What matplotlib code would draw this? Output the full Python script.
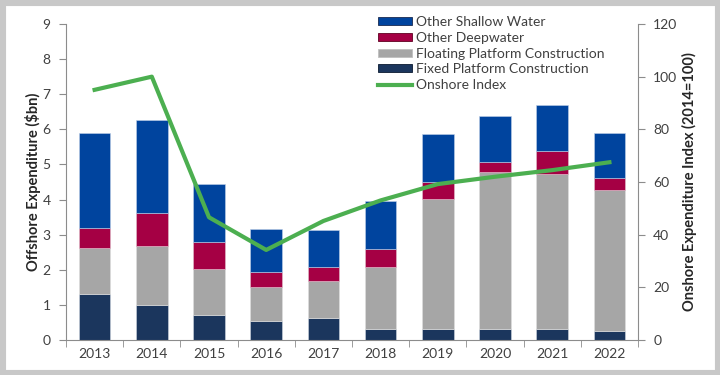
import numpy as np
import matplotlib.pyplot as plt
from matplotlib.patches import Rectangle
from matplotlib.lines import Line2D

plt.rcParams['font.family'] = ['Lato', 'DejaVu Sans']

years = ['2013', '2014', '2015', '2016', '2017', '2018', '2019', '2020', '2021', '2022']
fixed = [1.30, 1.00, 0.72, 0.53, 0.64, 0.32, 0.32, 0.32, 0.32, 0.25]
floating = [1.32, 1.68, 1.30, 0.99, 1.03, 1.77, 3.70, 4.46, 4.40, 4.03]
deepwater = [0.58, 0.94, 0.78, 0.41, 0.41, 0.49, 0.48, 0.30, 0.65, 0.32]
shallow = [2.70, 2.65, 1.63, 1.23, 1.06, 1.38, 1.38, 1.30, 1.33, 1.29]
onshore_index = [95.0, 100.0, 46.6, 34.2, 45.2, 53.0, 59.2, 62.0, 64.5, 67.5]

c_fixed = '#1b365d'
c_float = '#a6a6a6'
c_deep = '#a50044'
c_shallow = '#00449e'
c_green = '#4caf50'
spine_c = '#8c8c8c'
txt_c = '#404040'

fig = plt.figure(figsize=(7.2, 3.75), dpi=100)
fig.patches.append(Rectangle((0, 0), 1, 1, transform=fig.transFigure,
                             facecolor='white', edgecolor='#c8c8c8', linewidth=8, zorder=-1))
ax = fig.add_axes([66 / 720, 35 / 375, 572 / 720, 316 / 375])

x = np.arange(len(years))
w = 0.55
b1 = np.array(fixed)
b2 = b1 + np.array(floating)
b3 = b2 + np.array(deepwater)
ax.bar(x, fixed, w, color=c_fixed, edgecolor='#cfd6e0', linewidth=0.4)
ax.bar(x, floating, w, bottom=b1, color=c_float, edgecolor='#e0e0e0', linewidth=0.4)
ax.bar(x, deepwater, w, bottom=b2, color=c_deep, edgecolor='#e0c0cc', linewidth=0.4)
ax.bar(x, shallow, w, bottom=b3, color=c_shallow, edgecolor='#c0d0e8', linewidth=0.4)

ax.set_xlim(-0.5, len(years) - 0.5)
ax.set_ylim(0, 9)
ax.set_yticks(range(0, 10))
ax.set_xticks(x)
ax.set_xticklabels(years)
ax.set_xticks(np.arange(-0.5, len(years), 1), minor=True)
ax.tick_params(axis='x', which='major', length=0, labelsize=10, colors=txt_c, pad=6)
ax.tick_params(axis='x', which='minor', length=5, color=spine_c, direction='out')
ax.tick_params(axis='y', length=5, color=spine_c, labelsize=10, labelcolor=txt_c, pad=6)
ax.set_ylabel('Offshore Expenditure ($bn)', fontsize=10.5, fontweight='bold', color='#262626', labelpad=1)
for s in ['top', 'right']:
    ax.spines[s].set_visible(False)
for s in ['left', 'bottom']:
    ax.spines[s].set_color(spine_c)

ax2 = ax.twinx()
ax2.plot(x, onshore_index, color=c_green, linewidth=3)
ax2.set_ylim(0, 120)
ax2.set_yticks(range(0, 121, 20))
ax2.tick_params(axis='y', length=5, color=spine_c, labelsize=10, labelcolor=txt_c, pad=6)
ax2.set_ylabel('Onshore Expenditure Index (2014=100)', fontsize=10.5, fontweight='bold',
               color='#262626', labelpad=3)
for s in ['top', 'left', 'bottom']:
    ax2.spines[s].set_visible(False)
ax2.spines['right'].set_color(spine_c)

handles = [
    Rectangle((0, 0), 1, 1, facecolor=c_shallow, edgecolor='#1a2a50', linewidth=0.6),
    Rectangle((0, 0), 1, 1, facecolor=c_deep, edgecolor='#600020', linewidth=0.6),
    Rectangle((0, 0), 1, 1, facecolor=c_float, edgecolor='#c0c0c0', linewidth=0.6),
    Rectangle((0, 0), 1, 1, facecolor=c_fixed, edgecolor='#0a1a30', linewidth=0.6),
    Line2D([], [], color=c_green, linewidth=3),
]
labels = ['Other Shallow Water', 'Other Deepwater', 'Floating Platform Construction',
          'Fixed Platform Construction', 'Onshore Index']
leg = ax2.legend(handles, labels, loc='upper left', bbox_to_anchor=(0.546, 1.025),
                 frameon=False, fontsize=10, handlelength=2.45, handleheight=0.5,
                 handletextpad=0.25, labelspacing=0.27, borderaxespad=0, borderpad=0)
for t in leg.get_texts():
    t.set_color(txt_c)

fig.savefig('out.png', dpi=100)
